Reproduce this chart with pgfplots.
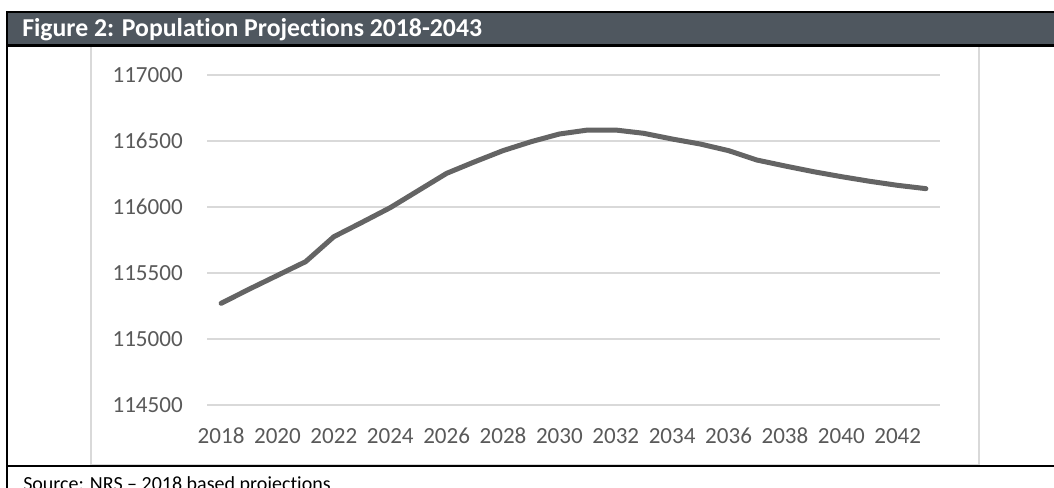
\documentclass[border=0pt]{standalone}
\usepackage{fontspec}
\setmainfont[Ligatures=NoCommon]{Carlito}
\usepackage{pgfplots}
\pgfplotsset{compat=1.18}
\definecolor{titlegrey}{RGB}{79,87,95}
\definecolor{gridgrey}{RGB}{217,217,217}
\definecolor{ticktext}{RGB}{89,89,89}
\definecolor{linegrey}{RGB}{100,100,100}
\begin{document}
\begin{tikzpicture}
\begin{scope}[x=0.75pt,y=-0.75pt]
\useasboundingbox (0,0) rectangle (1054,488);
\clip (0,0) rectangle (1054,488);
\fill[titlegrey] (6,12) rectangle (1054,45);
\draw[gridgrey,line width=1.1pt] (91,46) rectangle (979,465);
\draw[black,line width=1.6pt] (6,12) -- (1054,12);
\draw[black,line width=1.6pt] (6,45.5) -- (1054,45.5);
\draw[black,line width=1.6pt] (7,12) -- (7,490);
\draw[black,line width=1.6pt] (6,466) -- (1054,466);
\node[anchor=base west,inner sep=0pt,text=white,font=\fontsize{19.3}{21}\selectfont\bfseries] at (22,37) {Figure 2: Population Projections 2018-2043};
\node[anchor=base west,inner sep=0pt,text=black,font=\fontsize{15}{17}\selectfont] at (23,490) {Source: NRS – 2018 based projections};
\end{scope}
\begin{axis}[
  at={(155.25pt,-303.75pt)}, anchor=south west,
  scale only axis, width=549.75pt, height=247.5pt,
  xmin=2017.5, xmax=2043.5, ymin=114500, ymax=117000,
  xtick={2018,2020,...,2042},
  ytick={114500,115000,...,117000},
  scaled y ticks=false,
  axis line style={draw=none},
  major tick length=0pt,
  ymajorgrids, grid style={gridgrey,line width=1.1pt},
  /pgf/number format/.cd, fixed, precision=0, 1000 sep={}, assume math mode=true,
  /pgfplots/.cd,
  ticklabel style={text=ticktext,font=\fontsize{17.3}{19}\selectfont},
  yticklabel style={anchor=east,inner sep=0pt,xshift=-18pt},
  xticklabel style={anchor=base,inner sep=0pt,yshift=-28.9pt},
  clip=false,
]
\addplot[linegrey,line width=3.75pt,line join=round,line cap=round] coordinates {
(2018,115270) (2019,115378) (2020,115482) (2021,115586) (2022,115775)
(2023,115884) (2024,115995) (2025,116125) (2026,116255) (2027,116343)
(2028,116427) (2029,116495) (2030,116553) (2031,116583) (2032,116583)
(2033,116558) (2034,116515) (2035,116477) (2036,116427) (2037,116356)
(2038,116311) (2039,116268) (2040,116230) (2041,116195) (2042,116164)
(2043,116139)
};
\end{axis}
\end{tikzpicture}
\end{document}
